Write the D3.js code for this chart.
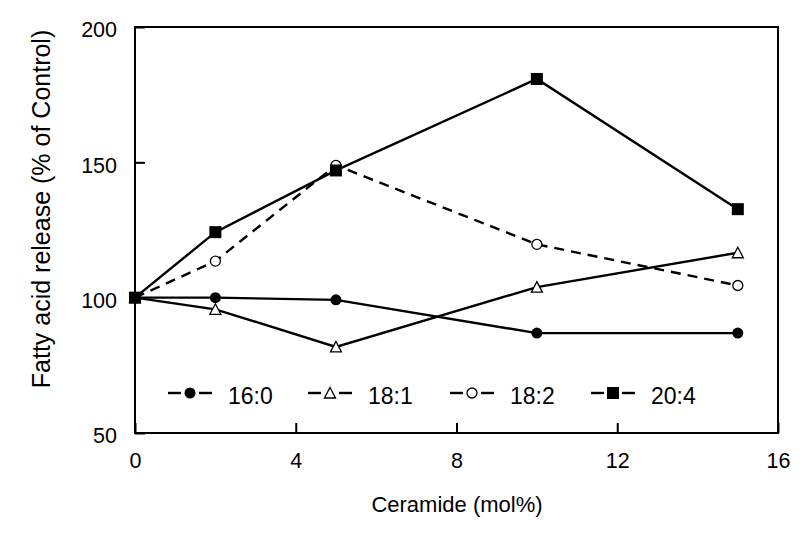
<!DOCTYPE html>
<html><head><meta charset="utf-8">
<script src="https://cdn.jsdelivr.net/npm/d3@7"></script>
<style>body{margin:0;background:#fff}svg{display:block}text{font-family:"Liberation Sans",Arial,sans-serif;fill:#000}</style>
</head><body><svg id="c" width="800" height="538"></svg>
<script>
const xValues = [0, 2, 5, 10, 15];
const s160 = [100, 100, 99.2, 86.9, 86.9];
const s181 = [100, 95.7, 81.8, 103.9, 116.6];
const s182 = [100, 113.5, 148.9, 119.7, 104.5];
const s204 = [100, 124.2, 147, 180.8, 132.7];
const seriesNames = ["16:0", "18:1", "18:2", "20:4"];
const xTicks = [0, 4, 8, 12, 16];
const yTicks = [50, 100, 150, 200];

const series = [
  {name: seriesNames[0], values: s160, marker: "circleFilled", dash: null},
  {name: seriesNames[1], values: s181, marker: "triangle", dash: null},
  {name: seriesNames[2], values: s182, marker: "circleOpen", dash: "10,7"},
  {name: seriesNames[3], values: s204, marker: "square", dash: null}
];

const svg = d3.select("#c");
const L = 135, R = 778, T = 27, B = 433;
const x = d3.scaleLinear().domain([0, 16]).range([L, R]);
const y = d3.scaleLinear().domain([50, 200]).range([B, T]);

// frame
svg.append("rect").attr("x", L).attr("y", T).attr("width", R - L).attr("height", B - T)
  .attr("fill", "none").attr("stroke", "#000").attr("stroke-width", 2);

const xAxis = svg.append("g").attr("transform", `translate(0,${B})`)
  .call(d3.axisBottom(x).tickValues(xTicks).tickFormat(d3.format("d")).tickSizeInner(-10).tickSizeOuter(0).tickPadding(20));
const yAxis = svg.append("g").attr("transform", `translate(${L},0)`)
  .call(d3.axisLeft(y).tickValues(yTicks).tickFormat(d3.format("d")).tickSizeInner(-10).tickSizeOuter(0).tickPadding(18));
[xAxis, yAxis].forEach(a => {
  a.select(".domain").remove();
  a.selectAll(".tick line").attr("stroke", "#000").attr("stroke-width", 2);
  a.selectAll(".tick text").attr("font-size", 21.5).attr("font-family", "Liberation Sans, Arial, sans-serif");
});
yAxis.selectAll(".tick text").attr("dy", "0.45em");

svg.append("text").attr("x", 457).attr("y", 512).attr("text-anchor", "middle")
  .attr("font-size", 22).text("Ceramide (mol%)");
svg.append("text").attr("transform", "translate(50,209) rotate(-90)").attr("text-anchor", "middle")
  .attr("font-size", 25).text("Fatty acid release (% of Control)");

function drawMarker(g, type, cx, cy) {
  if (type === "circleFilled") g.append("circle").attr("cx", cx).attr("cy", cy).attr("r", 5.5).attr("fill", "#000");
  else if (type === "circleOpen") g.append("circle").attr("cx", cx).attr("cy", cy).attr("r", 5).attr("fill", "#fff").attr("stroke", "#000").attr("stroke-width", 1.3);
  else if (type === "square") g.append("rect").attr("x", cx - 6).attr("y", cy - 6).attr("width", 12).attr("height", 12).attr("fill", "#000");
  else if (type === "triangle") g.append("path").attr("d", `M${cx},${cy - 5.5}L${cx + 5.5},${cy + 5}L${cx - 5.5},${cy + 5}Z`).attr("fill", "#fff").attr("stroke", "#000").attr("stroke-width", 1.3);
}

const line = d3.line().x(d => x(d[0])).y(d => y(d[1]));
series.forEach(s => {
  const pts = xValues.map((v, i) => [v, s.values[i]]);
  svg.append("path").attr("d", line(pts)).attr("fill", "none").attr("stroke", "#000")
    .attr("stroke-width", 2.4).attr("stroke-dasharray", s.dash);
});
series.forEach(s => {
  const g = svg.append("g");
  xValues.forEach((v, i) => drawMarker(g, s.marker, x(v), y(s.values[i])));
});

// legend
const legX = [190, 330, 472, 613];
const legY = 393;
series.forEach((s, i) => {
  const g = svg.append("g");
  const cx = legX[i];
  g.append("line").attr("x1", cx - 22).attr("x2", cx - 9).attr("y1", legY).attr("y2", legY).attr("stroke", "#000").attr("stroke-width", 2.4);
  g.append("line").attr("x1", cx + 9).attr("x2", cx + 22).attr("y1", legY).attr("y2", legY).attr("stroke", "#000").attr("stroke-width", 2.4);
  drawMarker(g, s.marker, cx, legY);
  g.append("text").attr("x", cx + 38).attr("y", legY + 11).attr("font-size", 23).text(s.name);
});
</script></body></html>
